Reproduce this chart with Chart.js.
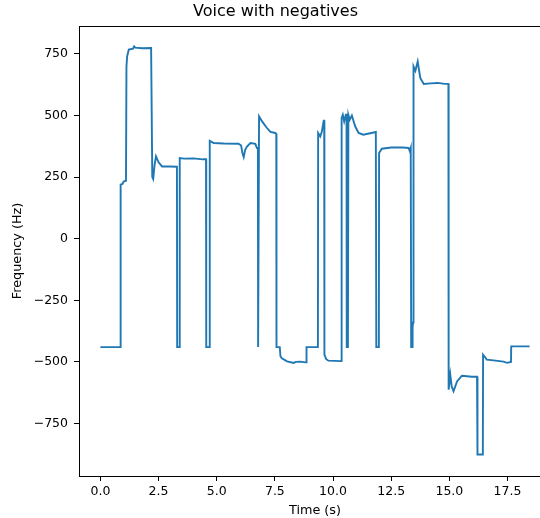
<!DOCTYPE html>
<html lang="en">
<head>
  <meta charset="UTF-8" />
  <title>Voice with negatives</title>
  <style>
    body {
      margin: 0;
      padding: 0;
      background: #fff;
      overflow: hidden;
    }
    .wrap {
      width: 540px;
      height: 518px;
      overflow: hidden;
    }
    canvas {
      display: block;
    }
  </style>
</head>
<body>
  <div class="wrap">
    <canvas id="voiceChart" width="560" height="518"></canvas>
  </div>

  <script src="https://cdn.jsdelivr.net/npm/chart.js"></script>
  <script>
    // pitch track (seconds, Hz); unvoiced frames sit at about -440
    const tiempos = [
      0.00, 0.87, 0.87, 0.95, 1.00, 1.10, 1.12, 1.15, 1.22, 1.40, 1.45, 1.50, 1.80, 2.18, 2.21,
      2.23, 2.27, 2.33, 2.39, 2.50, 2.65, 3.00, 3.29, 3.30, 3.40, 3.41, 3.60, 4.00, 4.40, 4.54,
      4.55, 4.68, 4.70, 4.80, 4.87, 5.30, 5.94, 6.05, 6.10, 6.16, 6.22, 6.30, 6.45, 6.66, 6.73,
      6.77, 6.78, 6.81, 6.82, 6.95, 7.16, 7.31, 7.52, 7.56, 7.57, 7.71, 7.74, 7.80, 7.88, 8.02,
      8.31, 8.40, 8.60, 8.81, 8.85, 8.86, 9.35, 9.36, 9.45, 9.52, 9.60, 9.62, 9.63, 9.70, 9.80,
      10.36, 10.37, 10.42, 10.48, 10.55, 10.58, 10.59, 10.64, 10.66, 10.72, 10.81, 10.95, 11.10, 11.30, 11.60,
      11.84, 11.86, 11.97, 11.98, 12.10, 12.50, 13.00, 13.25, 13.30, 13.34, 13.36, 13.40, 13.42, 13.44, 13.46,
      13.54, 13.64, 13.75, 13.90, 14.20, 14.50, 14.80, 14.96, 14.97, 15.04, 15.10, 15.18, 15.33, 15.54, 15.75,
      15.97, 16.19, 16.21, 16.44, 16.45, 16.61, 16.90, 17.33, 17.48, 17.65, 17.66, 18.45
    ];
    const frecuencias = [
      -440, -440, 219, 222, 232, 235, 700, 740, 767, 771, 780, 775, 773, 774, 774,
      250, 242, 300, 334, 310, 293, 293, 292, -440, -440, 327, 325, 326, 322, 322,
      -440, -440, 397, 392, 388, 386, 385, 378, 350, 331, 360, 374, 388, 385, 368,
      368, -440, -440, 496, 476, 449, 433, 429, 425, -440, -440, -477, -485, -490, -498,
      -504, -500, -499, -502, -502, -440, -440, 429, 415, 435, 479, 479, -470, -488, -495,
      -497, 490, 503, 476, 503, 503, -440, -440, 503, 483, 500, 456, 429, 422, 428,
      433, -440, -440, 348, 365, 370, 370, 368, 355, 368, -440, -440, -360, -340, 699,
      681, 719, 652, 628, 630, 632, 628, 628, -613, -552, -599, -619, -579, -556, -558,
      -560, -560, -876, -876, -471, -491, -494, -499, -504, -500, -437, -437
    ];
    const ticksX = [0, 2.5, 5, 7.5, 10, 12.5, 15, 17.5];
    const ticksY = [-750, -500, -250, 0, 250, 500, 750];

    const fuente = "'DejaVu Sans', sans-serif";
    const puntos = tiempos.map((t, i) => ({ x: t, y: frecuencias[i] }));

    // top and right spines, like matplotlib
    const marco = {
      id: "marco",
      afterDraw(chart) {
        const { ctx, chartArea } = chart;
        ctx.save();
        ctx.strokeStyle = "#000";
        ctx.lineWidth = 1;
        ctx.beginPath();
        ctx.moveTo(chartArea.left, Math.round(chartArea.top) + 0.5);
        ctx.lineTo(chartArea.right, Math.round(chartArea.top) + 0.5);
        ctx.lineTo(chartArea.right, chartArea.bottom);
        ctx.stroke();
        ctx.restore();
      },
    };

    const ctx = document.getElementById("voiceChart").getContext("2d");
    new Chart(ctx, {
      type: "line",
      data: {
        datasets: [{
          data: puntos,
          borderColor: "#1f77b4",
          borderWidth: 1.9,
          pointRadius: 0,
          tension: 0,
          fill: false,
        }],
      },
      options: {
        responsive: false,
        animation: false,
        devicePixelRatio: 1,
        layout: { padding: { left: 0, right: 9, top: 0, bottom: 0 } },
        scales: {
          x: {
            type: "linear",
            min: -0.92,
            max: 19.37,
            afterBuildTicks: (scale) => { scale.ticks = ticksX.map(v => ({ value: v })); },
            afterFit: (scale) => { scale.height = 42; },
            grid: { drawOnChartArea: false, tickLength: 5, color: "#000" },
            border: { display: true, color: "#000", width: 1 },
            ticks: {
              color: "#000",
              font: { family: fuente, size: 12.5 },
              padding: 3.5,
              maxRotation: 0,
              callback: (v) => Number(v).toFixed(1),
            },
            title: {
              display: true,
              text: "Time (s)",
              color: "#000",
              font: { family: fuente, size: 12.8 },
              padding: { top: 0, bottom: 0 },
            },
          },
          y: {
            min: -963,
            max: 863,
            afterBuildTicks: (scale) => { scale.ticks = ticksY.map(v => ({ value: v })); },
            afterFit: (scale) => { scale.width = 79; },
            grid: { drawOnChartArea: false, tickLength: 5, color: "#000" },
            border: { display: true, color: "#000", width: 1 },
            ticks: {
              color: "#000",
              font: { family: fuente, size: 12.5 },
              padding: 6,
              callback: (v) => String(v).replace("-", "\u2212"),
            },
            title: {
              display: true,
              text: "Frequency (Hz)",
              color: "#000",
              font: { family: fuente, size: 12.8 },
              padding: { top: 9.5, bottom: 0 },
            },
          },
        },
        plugins: {
          legend: { display: false },
          tooltip: { enabled: false },
          title: {
            display: true,
            text: "Voice with negatives",
            color: "#000",
            font: { family: fuente, size: 16, weight: "normal" },
            padding: { top: 2.5, bottom: 4.3 },
          },
        },
      },
      plugins: [marco],
    });
  </script>
</body>
</html>
